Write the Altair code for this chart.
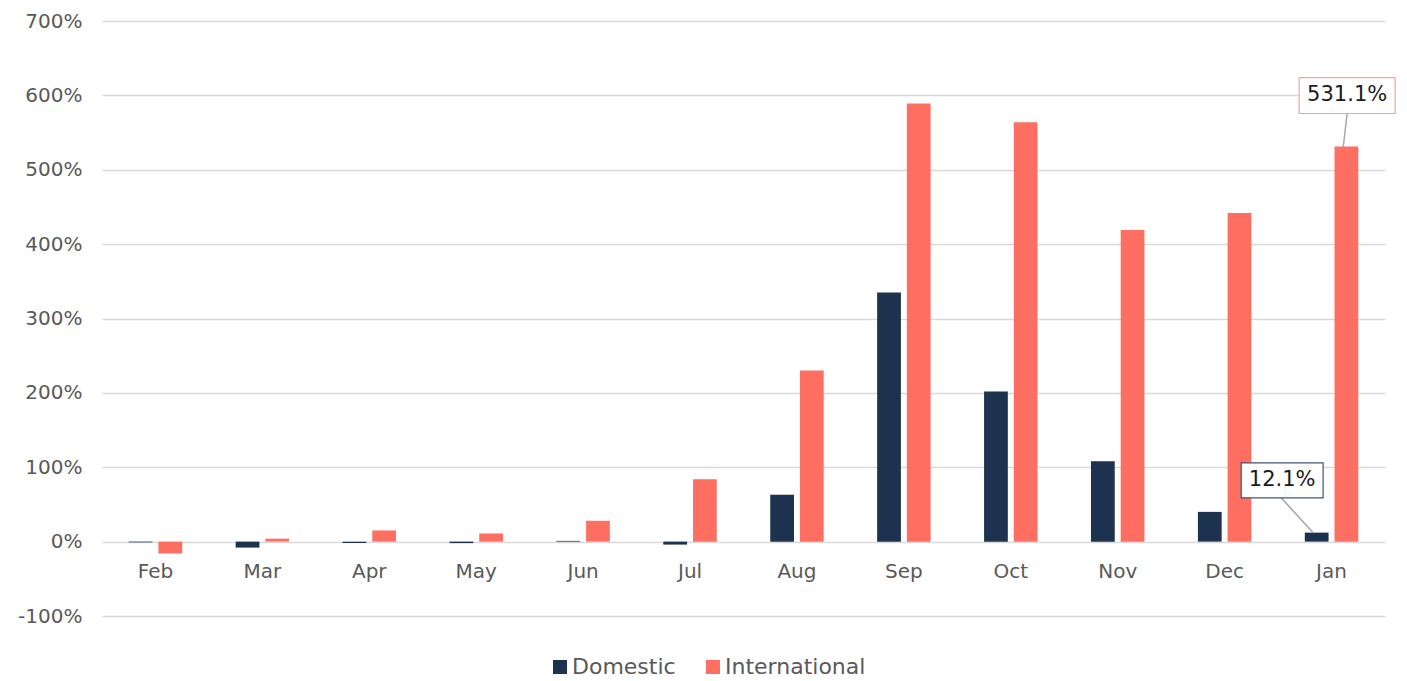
import altair as alt
import pandas as pd

months = ["Feb", "Mar", "Apr", "May", "Jun", "Jul", "Aug", "Sep", "Oct", "Nov", "Dec", "Jan"]
domestic = [-1, -8, -2, -2, 1, -4, 63, 335, 202, 108, 40, 12.1]
international = [-16, 4, 15, 11, 28, 84, 230, 589, 564, 419, 442, 531.1]
series = ["Domestic", "International"]
colors = ["#1d324f", "#ff6f61"]
y_ticks = [-100, 0, 100, 200, 300, 400, 500, 600, 700]

# callout annotations (x in month-index units, y in percent)
callout_text = ["531.1%", "12.1%"]
callout_x = [11.646, 11.038]
callout_y = [600.0, 82.3]
box_x1 = [11.197, 10.655]
box_x2 = [12.095, 11.421]
box_y1 = [623.8, 105.8]
box_y2 = [575.6, 58.9]
leader_x1 = [11.646, 11.029]
leader_y1 = [575.6, 58.9]
leader_x2 = [11.609, 11.328]
leader_y2 = [530.1, 12.0]
box_stroke = ["#f4a49c", "#44546a"]

FONT = "DejaVu Sans"
GRAY = "#595959"

rows = []
for m, d, i in zip(months, domestic, international):
    rows.append({"month": m, "series": "Domestic", "value": d})
    rows.append({"month": m, "series": "International", "value": i})
df = pd.DataFrame(rows)

ann = pd.DataFrame({
    "text": callout_text, "tx": callout_x, "ty": callout_y,
    "bx1": box_x1, "bx2": box_x2, "by1": box_y1, "by2": box_y2,
    "lx1": leader_x1, "ly1": leader_y1, "lx2": leader_x2, "ly2": leader_y2,
    "stroke": box_stroke,
})

yscale = alt.Scale(domain=[-100, 700], nice=False, zero=False)
yaxis = alt.Axis(values=y_ticks, labelExpr="datum.value + '%'", title=None,
                 domain=False, ticks=False, grid=True, gridColor="#d9d9d9",
                 gridWidth=1.3, labelPadding=20, labelFontSize=20,
                 labelFont=FONT, labelColor=GRAY)

bars = alt.Chart(df).mark_bar().encode(
    x=alt.X("month:N", sort=months,
            scale=alt.Scale(paddingInner=0.5, paddingOuter=0.25),
            axis=alt.Axis(title=None, offset=-75, domain=False, ticks=False,
                          labelPadding=20, labelFontSize=20, labelFont=FONT,
                          labelColor=GRAY, labelAngle=0, grid=False)),
    xOffset=alt.XOffset("series:N", sort=series, scale=alt.Scale(paddingInner=0.2)),
    y=alt.Y("value:Q", scale=yscale, axis=yaxis),
    color=alt.Color("series:N", sort=series,
                    scale=alt.Scale(domain=series, range=colors),
                    legend=alt.Legend(title=None, orient="none", direction="horizontal",
                                      legendX=447, legendY=635, padding=0,
                                      symbolType="square", symbolSize=196,
                                      symbolStrokeWidth=0, labelFontSize=22,
                                      labelFont=FONT, labelColor=GRAY,
                                      labelOffset=1, columnPadding=26)),
)

xq = alt.Scale(domain=[0, 12], nice=False, zero=False)

leaders = alt.Chart(ann).mark_rule(color="#a6a6a6", strokeWidth=1.5).encode(
    x=alt.X("lx1:Q", scale=xq, axis=None),
    x2="lx2:Q",
    y=alt.Y("ly1:Q", scale=yscale, axis=yaxis),
    y2="ly2:Q",
)

boxes = alt.Chart(ann).mark_rect(fill="white", strokeWidth=1.2).encode(
    x=alt.X("bx1:Q", scale=xq, axis=None),
    x2="bx2:Q",
    y=alt.Y("by1:Q", scale=yscale, axis=yaxis),
    y2="by2:Q",
    stroke=alt.Stroke("stroke:N", scale=None),
)

texts = alt.Chart(ann).mark_text(fontSize=21, font=FONT, color="#1a1a1a",
                                  baseline="middle", align="center").encode(
    x=alt.X("tx:Q", scale=xq, axis=None),
    y=alt.Y("ty:Q", scale=yscale, axis=yaxis),
    text="text:N",
)

chart = alt.layer(bars, leaders, boxes, texts).resolve_scale(
    x="independent"
).properties(
    width=1283, height=595,
    autosize=alt.AutoSizeParams(type="none"),
    padding={"left": 94, "top": 13, "right": 14, "bottom": 64},
    background="white",
).configure_view(stroke=None)

chart.save("out.html", embed_options={"renderer": "svg", "actions": False})
